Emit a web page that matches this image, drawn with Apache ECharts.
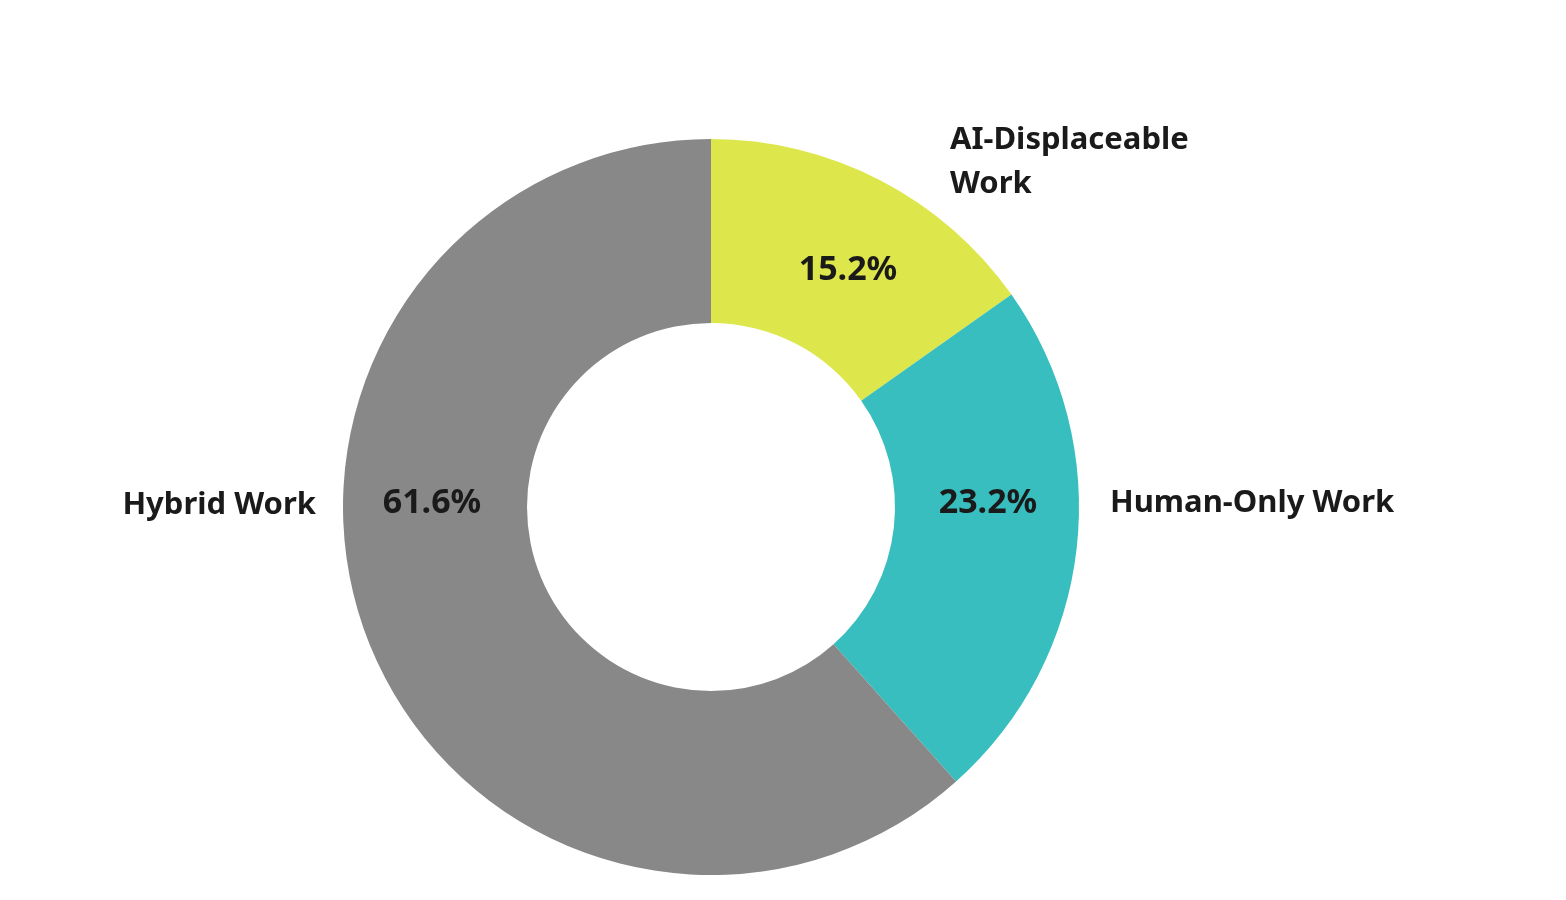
<!DOCTYPE html>
<html>
<head>
<meta charset="utf-8">
<script src="https://cdn.jsdelivr.net/npm/echarts@6/dist/echarts.min.js"></script>
<style>html,body{margin:0;background:#fff}#chart{width:1566px;height:900px}</style>
</head>
<body>
<div id="chart"></div>
<script>
var categories = ['AI-Displaceable\nWork', 'Human-Only Work', 'Hybrid Work'];
var shares = [15.2, 23.2, 61.6];
var colors = ['#dde64a', '#38bebe', '#888889'];

// label anchor spots
var pctPos = [[848, 270, 'center'], [988, 503, 'center'], [432, 503, 'center']];
var namePos = [[950, 118, 'left'], [1110, 503, 'left'], [316, 505, 'right']];

var data = categories.map(function (c, i) {
    return { name: c, value: shares[i], itemStyle: { color: colors[i] } };
});

var font = { fontFamily: 'Noto Sans', fontWeight: 'bold', color: '#1a1a1a' };

var myChart = echarts.init(document.getElementById('chart'));
myChart.setOption({
    animation: false,
    series: [
        {
            type: 'pie',
            center: [711, 507],
            radius: [184, 368],
            startAngle: 90,
            clockwise: true,
            silent: true,
            data: data,
            label: Object.assign({ position: 'inside', fontSize: 34, formatter: function (p) { return p.value.toFixed(1) + '%'; } }, font),
            labelLayout: function (p) {
                var q = pctPos[p.dataIndex];
                return { x: q[0], y: q[1], align: q[2], verticalAlign: 'middle' };
            }
        },
        {
            type: 'pie',
            center: [711, 507],
            radius: [184, 368],
            startAngle: 90,
            silent: true,
            z: 5,
            data: categories.map(function (c, i) { return { name: c, value: shares[i] }; }),
            itemStyle: { color: 'rgba(0,0,0,0)' },
            labelLine: { show: false },
            label: Object.assign({ show: true, position: 'outside', fontSize: 31, lineHeight: 44, formatter: '{b}' }, font),
            labelLayout: function (p) {
                var q = namePos[p.dataIndex];
                return { x: q[0], y: q[1], align: q[2], verticalAlign: p.dataIndex === 0 ? 'top' : 'middle' };
            }
        }
    ]
});
</script>
</body>
</html>
